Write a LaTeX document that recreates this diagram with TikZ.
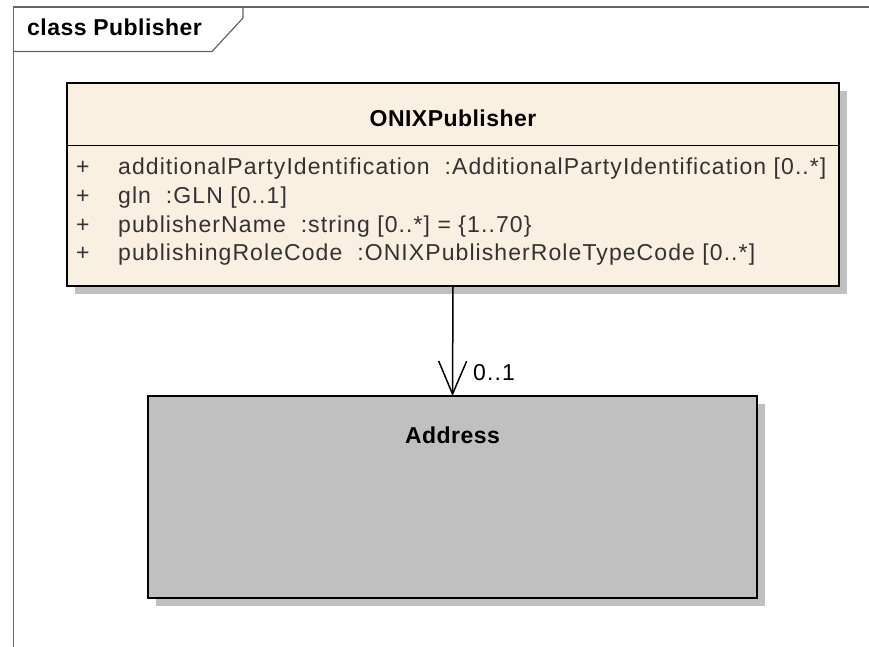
\documentclass[tikz,border=0pt]{standalone}
\usepackage{fontspec}
\setmainfont{Liberation Sans}
\newfontfamily\umlr[LetterSpace=4.7]{Liberation Sans}
\newfontfamily\umlb[LetterSpace=2]{Liberation Sans Bold}
\usetikzlibrary{arrows.meta}
\definecolor{classfill}{RGB}{250,240,226}
\definecolor{addrfill}{RGB}{192,192,192}
\definecolor{shadowc}{RGB}{192,192,192}
\definecolor{framec}{RGB}{100,100,100}
\definecolor{attrc}{RGB}{50,50,50}
\tikzset{
  box/.style={draw=black, line width=2pt, anchor=north west, inner sep=0pt, outer sep=0pt},
  btext/.style={anchor=base, inner sep=0pt, font=\fontsize{23}{27}\selectfont\umlb},
  atext/.style={anchor=base west, inner sep=0pt, text=attrc, font=\fontsize{23}{27}\selectfont\umlr},
  framel/.style={draw=framec, line width=1.2pt},
}
\begin{document}
\begin{tikzpicture}[x=1pt,y=-1pt]
\useasboundingbox (0,0) rectangle (869,647);
% frame
\draw[framel] (13.5,647) -- (13.5,7) -- (869,7);
\draw[framel] (13.5,51.5) -- (212,51.5) -- (243,18) -- (243,7);
\node[btext, anchor=base west] (frametitle) at (27,36) {class Publisher};
% shadows
\fill[shadowc] (75,91) rectangle (847,294);
\fill[shadowc] (156,404) rectangle (765,606);
% ONIXPublisher class
\node[box, fill=classfill, minimum width=772pt, minimum height=203pt] (onix) at (67,83) {};
\draw[line width=1.5pt] (onix.west |- 0,145.5) -- (onix.east |- 0,145.5);
\node[btext] (onixname) at (453,127) {ONIXPublisher};
\node[atext] (p1) at (76,175) {+};
\node[atext] (a1) at (118,175) {additionalPartyIdentification\ \ :AdditionalPartyIdentification [0..*]};
\node[atext] (p2) at (76,203.5) {+};
\node[atext] (a2) at (118,203.5) {gln\ \ :GLN [0..1]};
\node[atext] (p3) at (76,232) {+};
\node[atext] (a3) at (118,232) {publisherName\ \ :string [0..*] = \{1..70\}};
\node[atext] (p4) at (76,260.5) {+};
\node[atext] (a4) at (118,260.5) {publishingRoleCode\ \ :ONIXPublisherRoleTypeCode [0..*]};
% Address class
\node[box, fill=addrfill, minimum width=609pt, minimum height=202pt] (addr) at (148,396) {};
\node[btext] (addrname) at (452.5,443) {Address};
% association
\draw[line width=1.5pt, -{Straight Barb[length=33pt,width=28pt,line width=1.5pt]}] (onix.south) -- (addr.north);
\node[atext, text=black] (mult) at (473,380) {0..1};
\end{tikzpicture}
\end{document}
